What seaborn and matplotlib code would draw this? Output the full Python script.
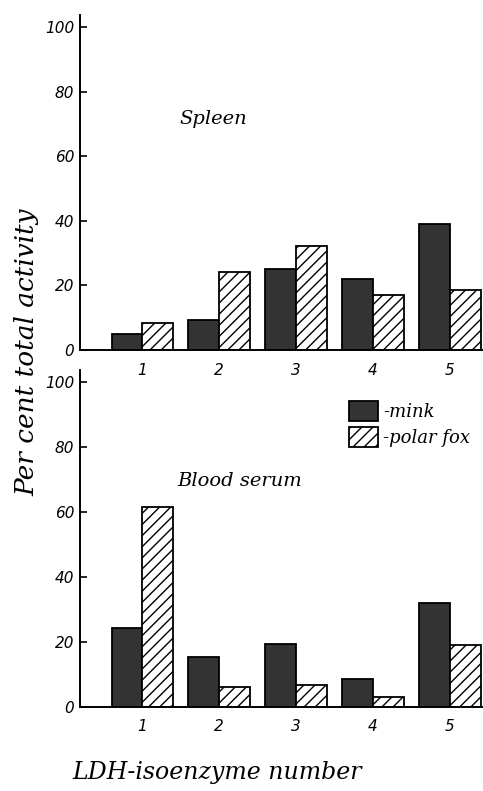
import pandas as pd
import matplotlib
matplotlib.use('Agg')
from matplotlib import pyplot as plt
import seaborn as sns

# LDH isoenzyme spectra, per cent of total activity
isoenzymes = ['1', '2', '3', '4', '5']
spleen_mink = [5.1, 9.4, 25.1, 22.1, 39.0]
spleen_fox = [8.4, 24.3, 32.3, 16.9, 18.7]
serum_mink = [24.3, 15.5, 19.5, 8.7, 32.0]
serum_fox = [61.5, 6.0, 6.7, 3.0, 19.2]
legend_labels = ['-mink', '-polar fox']


def make_df(mink, fox):
    return pd.DataFrame({'iso': isoenzymes * 2,
                         'species': ['mink'] * 5 + ['polar fox'] * 5,
                         'pct': mink + fox})


sns.set_style('ticks', {'text.color': 'black', 'xtick.color': 'black', 'ytick.color': 'black',
                        'axes.edgecolor': 'black'})
plt.rcParams['font.family'] = ['DejaVu Sans']
script = dict(family='DejaVu Serif', style='italic', color='black')

fig = plt.figure(figsize=(4.83, 7.91), dpi=100)
ax1 = fig.add_axes([0.1656, 0.5575, 0.834, 0.4235])
ax2 = fig.add_axes([0.1656, 0.1062, 0.834, 0.426])

for ax, mink, fox in [(ax1, spleen_mink, spleen_fox), (ax2, serum_mink, serum_fox)]:
    df = make_df(mink, fox)
    sns.barplot(data=df, x='iso', y='pct', hue='species',
                palette=['#333333', 'white'], edgecolor='black',
                linewidth=1.3, width=0.8, legend=False, ax=ax)
    for bar in ax.containers[1]:
        bar.set_hatch('///')
    ax.set_facecolor('none')
    ax.set_xlim(-0.81, 4.43)
    ax.set_ylim(0, 103.7)
    ax.set_yticks(range(0, 101, 20))
    ax.set_yticklabels([str(v) for v in range(0, 101, 20)], style='italic', fontsize=11)
    for lbl in ax.get_xticklabels():
        lbl.set_style('italic')
        lbl.set_fontsize(11)
    ax.set_xlabel('')
    ax.set_ylabel('')
    sns.despine(ax=ax)
    for s in ['left', 'bottom']:
        ax.spines[s].set_linewidth(1.4)
    ax.tick_params(axis='y', direction='in', length=5, width=1.2, pad=4, colors='black')
    ax.tick_params(axis='x', length=0, pad=9, colors='black')

ax1.text(0.92, 71.4, 'Spleen', ha='center', va='center', fontsize=14, **script)
ax2.text(1.27, 69.5, 'Blood serum', ha='center', va='center', fontsize=14, **script)

ax2.legend(handles=[ax2.containers[0], ax2.containers[1]], labels=legend_labels,
           loc='upper left', bbox_to_anchor=(0.645, 0.935), frameon=False,
           borderpad=0, handlelength=1.6, handleheight=1.35,
           handletextpad=0.3, labelspacing=0.3,
           prop=dict(family='DejaVu Serif', style='italic', size=13))

fig.text(0.055, 0.555, 'Per cent total activity', rotation=90, ha='center', va='center',
         fontsize=19, **script)
fig.text(0.45, 0.023, 'LDH-isoenzyme number', ha='center', va='center',
         fontsize=17, **script)

fig.savefig('out.png', dpi=100)
